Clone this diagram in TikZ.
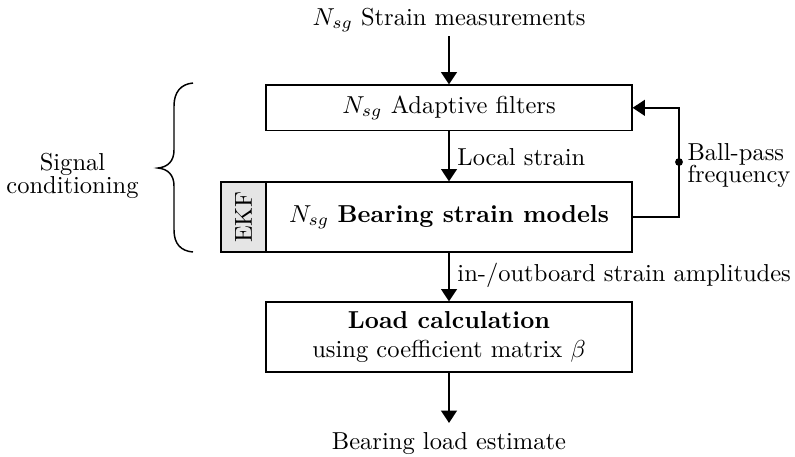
\documentclass[tikz,border=0pt]{standalone}
\usetikzlibrary{arrows.meta}
\begin{document}
\begin{tikzpicture}[x=0.408pt,y=-0.408pt,
  blockbox/.style={draw, line width=0.5pt, minimum width=149.3pt, inner sep=0pt, align=center},
  arrowline/.style={line width=0.8pt, -{Triangle[length=5pt,width=6.4pt]}},
  lbl/.style={inner sep=0pt, anchor=base west}]
\useasboundingbox (0,0) rectangle (795,456);
% top text
\node[inner sep=1.5pt, anchor=base] (meas) at (449,25) {$N_{sg}$ Strain measurements};
% boxes
\node[blockbox, minimum height=18.6pt] (filt) at (449,107.8) {$N_{sg}$ Adaptive filters};
\node[blockbox, minimum height=28.6pt] (model) at (449,217) {$N_{sg}$ \textbf{Bearing strain models}};
\node[draw, line width=0.5pt, fill=black!10, minimum width=18.4pt, minimum height=28.6pt, inner sep=0pt] (ekf) at (243.5,217) {\rotatebox{90}{EKF}};
\node[blockbox, minimum height=28.6pt] (load) at (449,337) {\textbf{Load calculation}\\using coefficient matrix $\beta$};
% bottom text
\node[inner sep=3.5pt, anchor=base] (est) at (449,449) {Bearing load estimate};
% arrows
\draw[arrowline] (meas.south -| filt.north) -- (filt.north);
\draw[arrowline] (filt.south) -- (model.north);
\draw[arrowline] (model.south) -- (load.north);
\draw[arrowline] (load.south) -- (est.north -| load.south);
% labels
\node[lbl] (lls) at (457,165) {Local strain};
\node[lbl] (lio) at (457,281) {in-/outboard strain amplitudes};
% feedback
\coordinate (fb) at (679,162);
\draw[arrowline] (model.east) -- (model.east -| fb) |- (filt.east);
\fill (fb) circle (1.6pt);
\node[inner sep=0pt, anchor=north west, align=left, font=\fontsize{10}{9}\selectfont] (bpf) at (687,143) {Ball-pass\\frequency};
% brace
\draw[line width=0.6pt] (193,83) .. controls (181,84) and (174,92) .. (174,106) -- (174,150)
  .. controls (174,161) and (168,167) .. (158,168)
  .. controls (168,169) and (174,175) .. (174,186) -- (174,230)
  .. controls (174,244) and (181,251) .. (193,252);
\node[inner sep=0pt, anchor=north, align=center, font=\fontsize{10}{9.4}\selectfont] (sc) at (72.5,153) {Signal\\conditioning};
\end{tikzpicture}
\end{document}
